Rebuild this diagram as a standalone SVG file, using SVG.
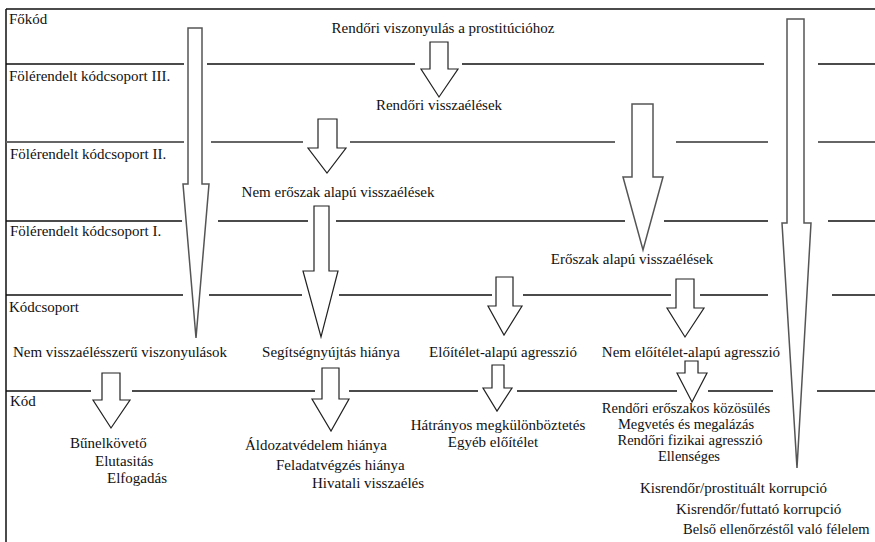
<svg xmlns="http://www.w3.org/2000/svg" width="875" height="542" viewBox="0 0 875 542">
<style>
text{font-family:"Liberation Serif","Times New Roman",serif;font-size:15px;fill:#111}
.m{text-anchor:middle}
.s{font-size:14.5px}
.g{stroke:#111;stroke-width:1.5;fill:none}
.g2{stroke:#666;stroke-width:1.8;fill:none}
.big{fill:#fff;stroke:#555;stroke-width:1.5}
.arr{fill:#fff;stroke:#222;stroke-width:1.2}
</style>
<rect width="875" height="542" fill="#fff"/>
<g id="grid">
<path class="g" d="M6 9H875M6 9V542"/>
<path class="g" d="M6 64H184M207 64H415M462 64H764M818 64H875"/>
<path class="g2" d="M6 142H184M211 142H303M350 142H615M676 142H768M818 142H875"/>
<path class="g" d="M6 221H182M218 221H308M336 221H625M664 221H768M828 221H875"/>
<path class="g" d="M6 295H183M209 295H302M339 295H492M523 295H671M700 295H768M832 295H875"/>
<path class="g" d="M6 391H91M132 391H315M349 391H478M517 391H677M708 391H773M817 391H875"/>
</g>
<g id="levels">
<text x="9" y="24">Főkód</text>
<text x="9" y="81">Fölérendelt kódcsoport III.</text>
<text x="10" y="159">Fölérendelt kódcsoport II.</text>
<text x="10" y="236">Fölérendelt kódcsoport I.</text>
<text x="9" y="312">Kódcsoport</text>
<text x="10" y="406">Kód</text>
</g>
<g id="connectors">
<polygon class="big" points="188,28 202,28 202,184 209,184 196,338 183,184 188,184"/>
<polygon class="big" points="787,19 804,19 804,223 811,223 797,468 782,223 787,223"/>
<polygon class="arr" points="430,42 448,42 448,69 458,69 439,97 421,69 430,69"/>
<polygon class="arr" points="318,119 337,119 337,148 346,148 327,173 308,148 318,148"/>
<polygon class="big" points="632,104 653,104 653,177 663,177 643,250 623,177 632,177"/>
<polygon class="arr" points="314,206 329,206 329,271 338,271 321,337 303,271 314,271"/>
<polygon class="arr" points="496,277 513,277 513,306 522,306 504,335 488,306 496,306"/>
<polygon class="arr" points="676,279 694,279 694,308 704,308 685,337 667,308 676,308"/>
<polygon class="arr" points="102,373 120,373 120,400 130,400 111,428 93,400 102,400"/>
<polygon class="arr" points="322,368 339,368 339,399 349,399 331,431 312,399 322,399"/>
<polygon class="arr" points="492,365 504,365 504,388 512,388 497,411 483,388 492,388"/>
<polygon class="arr" points="685,361 698,361 698,373 707,373 692,402 677,373 685,373"/>
</g>
<g id="n-fokod"><text class="m" x="443" y="33">Rendőri viszonyulás a prostitúcióhoz</text></g>
<g id="n-visszaelesek"><text class="m" x="439" y="110">Rendőri visszaélések</text></g>
<g id="n-nem-eroszak"><text class="m" x="338" y="197">Nem erőszak alapú visszaélések</text></g>
<g id="n-eroszak"><text class="m" x="632" y="264">Erőszak alapú visszaélések</text></g>
<g id="n-nem-visszaeles"><text class="m" x="120" y="357">Nem visszaélésszerű viszonyulások</text></g>
<g id="n-segitseg"><text class="m" x="331" y="357">Segítségnyújtás hiánya</text></g>
<g id="n-eloitelet"><text class="m" x="503" y="357">Előítélet-alapú agresszió</text></g>
<g id="n-nem-eloitelet"><text class="m" x="691" y="357">Nem előítélet-alapú agresszió</text></g>
<g id="n-kod1">
<text x="70" y="448">Bűnelkövető</text>
<text x="95" y="466">Elutasitás</text>
<text x="107" y="483">Elfogadás</text>
</g>
<g id="n-kod2">
<text x="245" y="450">Áldozatvédelem hiánya</text>
<text x="276" y="470">Feladatvégzés hiánya</text>
<text x="312" y="488">Hivatali visszaélés</text>
</g>
<g id="n-kod3">
<text class="m" x="498" y="430">Hátrányos megkülönböztetés</text>
<text class="m" x="493" y="447">Egyéb előítélet</text>
</g>
<g id="n-kod4">
<text class="m s" x="686" y="413">Rendőri erőszakos közösülés</text>
<text class="m s" x="686" y="429">Megvetés és megalázás</text>
<text class="m s" x="690" y="445">Rendőri fizikai agresszió</text>
<text class="m s" x="689" y="461">Ellenséges</text>
</g>
<g id="n-kod5">
<text x="640" y="493">Kisrendőr/prostituált korrupció</text>
<text x="676" y="514">Kisrendőr/futtató korrupció</text>
<text class="s" x="683" y="534">Belső ellenőrzéstől való félelem</text>
</g>
</svg>
